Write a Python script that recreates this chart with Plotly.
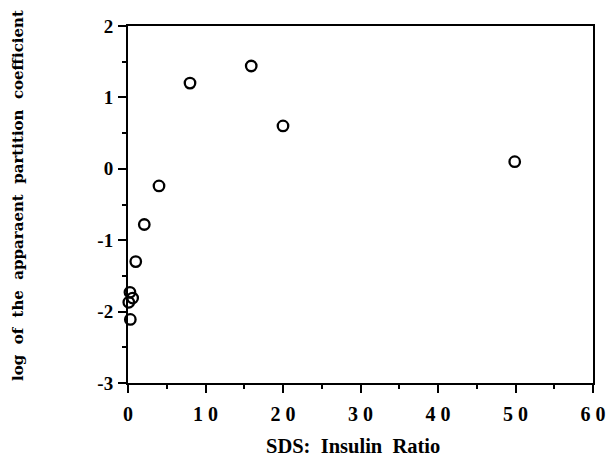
import plotly.graph_objects as go

ratio = [0.25, 0.6, 0.1, 0.3, 1.0, 2.1, 4.0, 8.0, 15.9, 20.0, 49.9]
log_pc = [-1.73, -1.81, -1.87, -2.11, -1.30, -0.78, -0.24, 1.20, 1.44, 0.60, 0.10]
x_ticks = [0, 10, 20, 30, 40, 50, 60]
x_ticklabels = ["0", "1 0", "2 0", "3 0", "4 0", "5 0", "6 0"]
y_ticks = [-3, -2, -1, 0, 1, 2]
y_ticklabels = ["-3", "-2", "-1", "0", "1", "2"]

S = "\u00a0"
x_title = f"SDS:{S*2}Insulin{S*2}Ratio"
y_title = (S + " ").join(["log", "of", "the", "apparaent", "partition", "coefficient"])

W, H = 607, 456
L, R, T, B = 128, 14, 26, 73
pw, ph = W - L - R, H - T - B

fig = go.Figure()
fig.add_trace(go.Scatter(
    x=ratio, y=log_pc, mode="markers",
    marker=dict(symbol="circle-open", size=10.5, color="black", line=dict(width=2.3, color="black")),
    showlegend=False, cliponaxis=False,
))

font_serif = "Liberation Serif"
font_wide = "DejaVu Serif"
fig.update_layout(
    width=W, height=H,
    margin=dict(l=L, r=R, t=T, b=B, autoexpand=False),
    paper_bgcolor="white", plot_bgcolor="white",
    font=dict(family=font_serif, color="black"),
)
fig.update_xaxes(
    range=[0, 60], tickvals=x_ticks, ticktext=x_ticklabels,
    ticks="outside", ticklen=8, tickwidth=2, tickcolor="black",
    minor=dict(dtick=5, tick0=0, ticks="outside", ticklen=4, tickwidth=2, tickcolor="black"),
    showline=True, linewidth=2, linecolor="black", mirror=True,
    showgrid=False, zeroline=False, automargin=False, ticklabelstandoff=4,
    tickfont=dict(family=font_serif, size=20, color="black", weight="bold"),
)
fig.update_yaxes(
    range=[-3, 2], tickvals=y_ticks, ticktext=y_ticklabels,
    ticks="outside", ticklen=8, tickwidth=2, tickcolor="black",
    minor=dict(dtick=0.5, tick0=0, ticks="outside", ticklen=4, tickwidth=2, tickcolor="black"),
    showline=True, linewidth=2, linecolor="black", mirror=True,
    showgrid=False, zeroline=False, automargin=False, ticklabelstandoff=1,
    tickfont=dict(family=font_serif, size=19, color="black", weight="bold"),
)
fig.add_annotation(
    text=x_title, xref="paper", yref="paper",
    x=(353 - L) / pw, y=-(446 - (H - B)) / ph,
    xanchor="center", yanchor="middle", showarrow=False,
    font=dict(family=font_serif, size=20.5, color="black", weight="bold"),
)
fig.add_annotation(
    text=y_title, xref="paper", yref="paper",
    x=(18 - L) / pw, y=((H - B) - 196) / ph,
    xanchor="center", yanchor="middle", textangle=-90, showarrow=False,
    font=dict(family=font_wide, size=15, color="black", weight="bold"),
)

fig.write_html(
    "out.html",
    config={"displayModeBar": False},
    post_script="document.body.style.margin='0';document.body.style.overflow='hidden';",
)
